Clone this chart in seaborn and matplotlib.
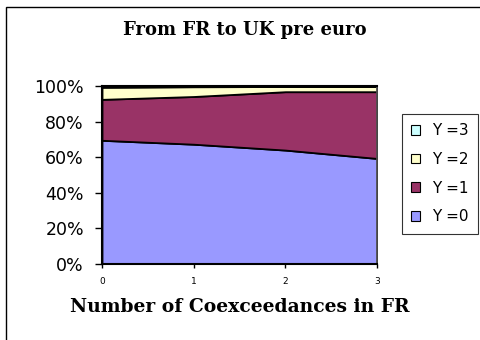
import numpy as np
import seaborn as sns
import matplotlib
matplotlib.use("Agg")
from matplotlib import pyplot as plt
from matplotlib.patches import Rectangle, Patch
from matplotlib.ticker import PercentFormatter

# values (shares in %)
coexceedances = [0, 1, 2, 3]
y0 = [69.5, 67.3, 64.0, 59.3]
y1 = [23.0, 26.8, 32.8, 37.5]
y2 = [6.8, 5.5, 2.9, 2.9]
y3 = [0.7, 0.4, 0.3, 0.3]
series_labels = ["Y =0", "Y =1", "Y =2", "Y =3"]
series_colors = ["#9999FF", "#993366", "#FFFFCC", "#CCFFFF"]

sns.set_style("white")
plt.rcParams['font.family'] = ['DejaVu Sans']
plt.rcParams['text.color'] = 'black'
plt.rcParams['xtick.color'] = 'black'
plt.rcParams['ytick.color'] = 'black'

fig = plt.figure(figsize=(4.81, 3.40), dpi=100)
ax = fig.add_axes([102 / 481, 1 - 264 / 340, 275 / 481, 178 / 340])

# outer chart frame (cropped at right/bottom like the original)
fig.patches.append(Rectangle((6 / 481, -0.05), 1.2, (340 - 7) / 340 + 0.05,
                             transform=fig.transFigure, fill=False,
                             edgecolor='black', linewidth=1.0))

data = np.array([y0, y1, y2, y3])
data = data / data.sum(axis=0) * 100
ax.stackplot(coexceedances, data, colors=series_colors,
             edgecolor='black', linewidth=1.3)

ax.set_xlim(0, 3)
ax.set_ylim(0, 100)
ax.set_xticks(coexceedances)
ax.set_yticks([0, 20, 40, 60, 80, 100])
ax.yaxis.set_major_formatter(PercentFormatter(decimals=0))
ax.tick_params(axis='y', labelsize=12.5, length=5, width=1, direction='out',
               left=True, pad=8)
ax.tick_params(axis='x', labelsize=6.5, length=3, width=1, direction='out',
               bottom=True, pad=6)
for side in ['left', 'bottom', 'top']:
    ax.spines[side].set_color('black')
    ax.spines[side].set_linewidth(1.5)
ax.spines['right'].set_color('#555555')
ax.spines['right'].set_linewidth(1.2)

fig.text(245 / 481, 1 - 30 / 340, "From FR to UK pre euro",
         family='DejaVu Serif', weight='bold', fontsize=13,
         ha='center', va='center')
fig.text(240 / 481, 1 - 307 / 340, "Number of Coexceedances in FR",
         family='DejaVu Serif', weight='bold', fontsize=13.5,
         ha='center', va='center')

handles = [Patch(facecolor=c, edgecolor='black', linewidth=0.8)
           for c in series_colors][::-1]
leg = fig.legend(handles, series_labels[::-1], loc='upper left',
                 bbox_to_anchor=(402 / 481, 1 - 114 / 340),
                 frameon=True, fancybox=False, fontsize=11,
                 handlelength=0.6, handleheight=0.6, handletextpad=0.8,
                 labelspacing=0.9, borderpad=0.6, borderaxespad=0)
leg.get_frame().set_edgecolor('black')
leg.get_frame().set_linewidth(0.8)

fig.savefig("out.png", dpi=100)
